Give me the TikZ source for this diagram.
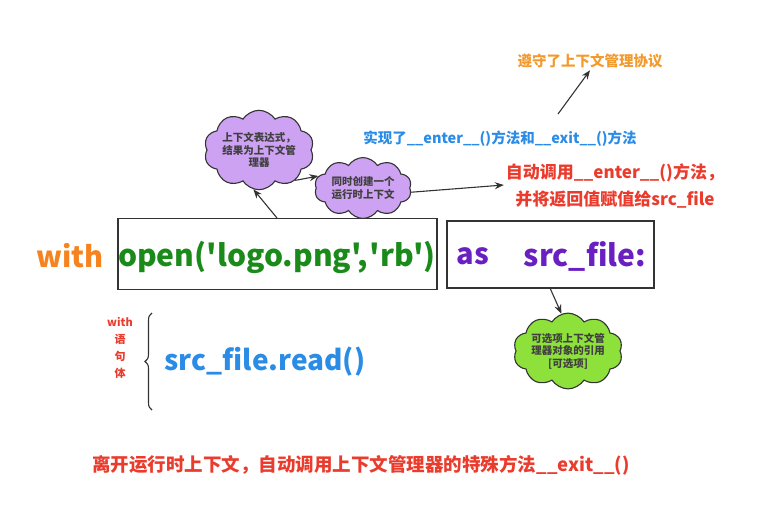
\documentclass[tikz,border=0pt]{standalone}
\usepackage{fontspec}
\setmainfont{Noto Sans CJK SC}[Ligatures=TeXOff]
\usetikzlibrary{shapes.symbols,arrows.meta,decorations.pathreplacing}
\definecolor{cwith}{HTML}{F5831F}
\definecolor{cgreen}{HTML}{1A8A1A}
\definecolor{cpurple}{HTML}{6A1FC0}
\definecolor{cblue}{HTML}{2B8CE6}
\definecolor{cred}{HTML}{EA3B2C}
\definecolor{corange}{HTML}{F39A2E}
\definecolor{cviolet}{HTML}{CDA2F2}
\definecolor{clime}{HTML}{8EE03A}
\definecolor{cline}{HTML}{333333}
\tikzset{
  codebox/.style={draw=cline, line width=1.2pt, rectangle, inner sep=0pt},
  bubble/.style={cloud, cloud puffs=10, cloud puff arc=115,
    draw=cline, line width=1.1pt,
    align=center, inner sep=0pt, font=\fontsize{10.5}{12.5}\selectfont\bfseries, text=black!75},
  note/.style={inner sep=2pt, align=center, font=\bfseries},
  big/.style={font=\fontsize{29}{32}\selectfont\bfseries},
  bigger/.style={font=\fontsize{30}{32}\selectfont\bfseries},
  conn/.style={draw=cline, line width=1.1pt, -{Stealth[length=9pt,width=7pt]}},
}
\begin{document}
\begin{tikzpicture}[x=1pt,y=-1pt]
\useasboundingbox (0,0) rectangle (767,508);
% code boxes
\node[codebox, minimum width=319pt, minimum height=71pt] (b1) at (277.5,254) {};
\node[codebox, minimum width=207pt, minimum height=67pt] (b2) at (550.5,254.5) {};
\node[note, big, text=cwith] (w) at (70,256) {with};
\node[note, bigger, text=cgreen] (op) at (277,257) {open('logo.png',\hspace{2pt}'rb')};
\node[note, big, text=cpurple] (as) at (473,256) {as};
\node[note, bigger, text=cpurple] (sf) at (585,256) {src\_file:};
% clouds
\node[bubble, fill=cviolet, aspect=1.6, minimum width=102pt] (c1) at (259,150) {上下文表达式，\\结果为上下文管\\理器};
\node[bubble, fill=cviolet, aspect=1.85, minimum width=97pt] (c2) at (363,188) {同时创建一个\\运行时上下文};
\node[bubble, fill=clime, aspect=1.7, minimum width=100pt] (c3) at (568,351) {可选项上下文管\\理器对象的引用\\{[}可选项{]}};
% notes
\node[note, text=corange, font=\fontsize{14.5}{17}\selectfont\bfseries] (proto) at (590,61) {遵守了上下文管理协议};
\node[note, text=cblue, font=\fontsize{14.5}{17}\selectfont\bfseries] (impl) at (500,139) {实现了\_\_enter\_\_()方法和\_\_exit\_\_()方法};
\node[note, text=cred, font=\fontsize{17}{27}\selectfont\bfseries] (enter) at (615,186) {自动调用\_\_enter\_\_()方法，\\并将返回值赋值给src\_file};
\node[note, text=cred, font=\fontsize{11}{17}\selectfont\bfseries] (body) at (120,348) {with\\语\\句\\体};
\node[note, text=cblue, font=\fontsize{28}{32}\selectfont\bfseries] (read) at (265,362) {src\_file.read()};
\node[note, text=cred, font=\fontsize{18.5}{21}\selectfont\bfseries] (exit) at (361,465) {离开运行时上下文，自动调用上下文管理器的特殊方法\_\_exit\_\_()};
% connectors
\coordinate (p1) at (277,218);
\coordinate (p2) at (550,288);
\coordinate (p3) at (558,114);
\draw[conn] (p1) -- (c1.-98);
\draw[conn] (c1.-40) -- (c2.165);
\draw[conn] (c2.-5) -- (enter.west |- 0,185);
\draw[conn] (p3) -- (proto.south);
\draw[conn] (p2) -- (c3.100);
% brace
\coordinate (br1) at (152,410);
\coordinate (br2) at (152,313);
\draw[draw=cline, line width=1.1pt, decorate, decoration={brace, amplitude=7pt}] (br1) -- (br2);
\end{tikzpicture}
\end{document}
